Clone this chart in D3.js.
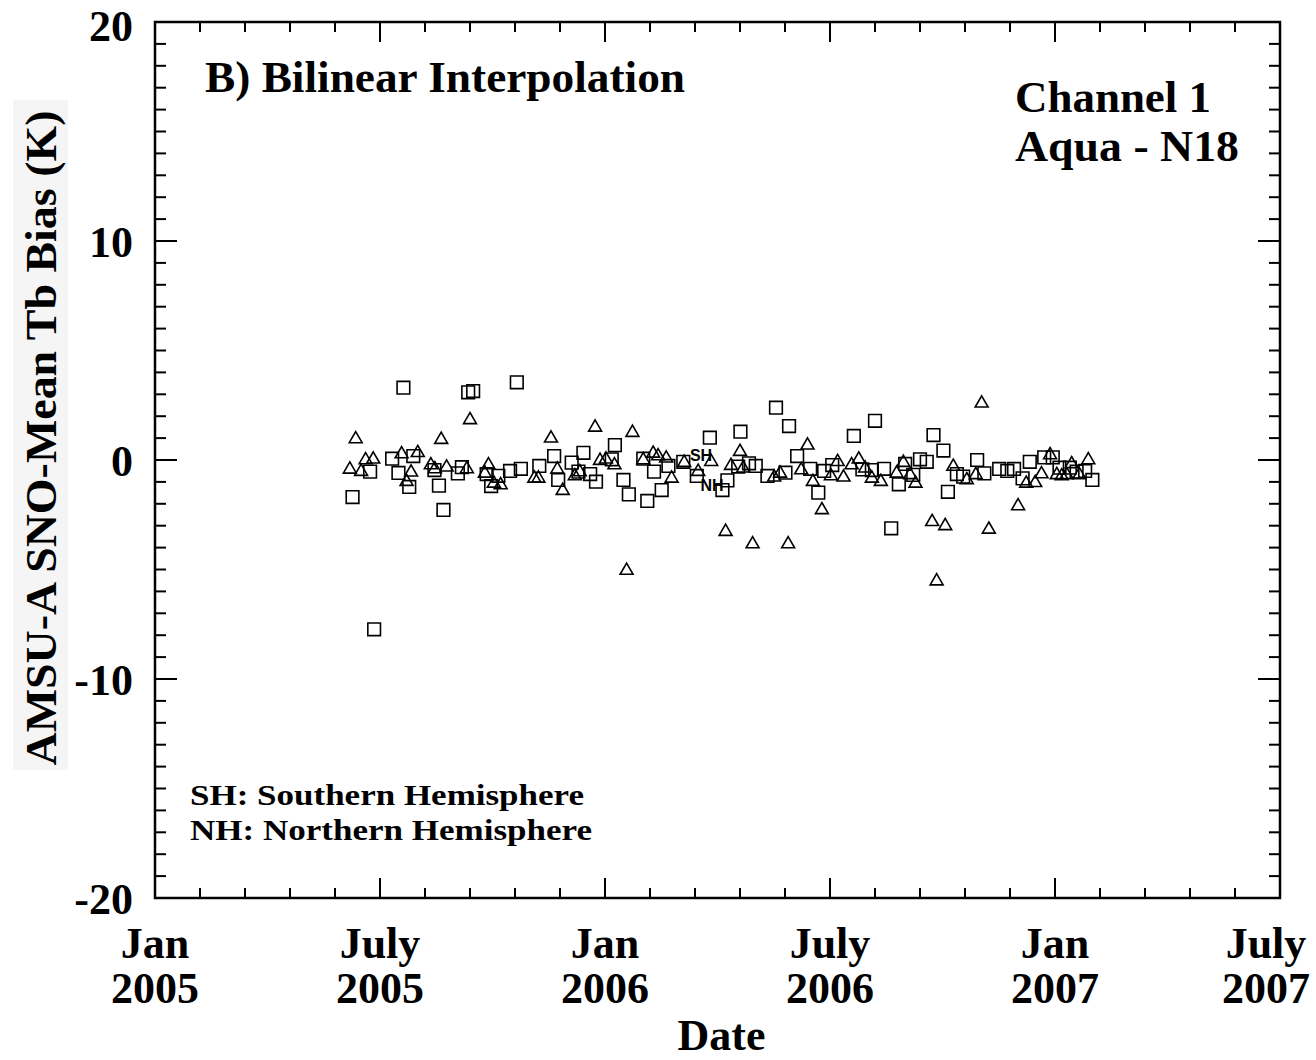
<!DOCTYPE html>
<html>
<head>
<meta charset="utf-8">
<script src="https://cdn.jsdelivr.net/npm/d3@7"></script>
<style>
html,body{margin:0;padding:0;background:#fff;}
svg{display:block;}
text{font-family:"Liberation Serif","Times New Roman",serif;font-weight:bold;fill:#000;}
</style>
</head>
<body>
<svg id="chart" width="1316" height="1060"></svg>
<script>
// ---- Data (decimal year, bias K) ----
const triDates = [2005.433,2005.446,2005.458,2005.468,2005.485,2005.548,2005.559,2005.569,2005.584,2005.613,
  2005.622,2005.636,2005.648,2005.693,2005.700,2005.733,2005.741,2005.753,2005.768,2005.843,
  2005.852,2005.880,2005.894,2005.906,2005.933,2005.944,2005.978,2005.989,2006.002,2006.021,
  2006.048,2006.061,2006.085,2006.107,2006.118,2006.136,2006.148,2006.176,2006.207,2006.236,
  2006.268,2006.280,2006.300,2006.307,2006.328,2006.376,2006.389,2006.407,2006.436,2006.450,
  2006.462,2006.482,2006.502,2006.517,2006.530,2006.548,2006.564,2006.578,2006.593,2006.613,
  2006.648,2006.663,2006.678,2006.690,2006.727,2006.737,2006.756,2006.774,2006.804,2006.824,
  2006.837,2006.853,2006.918,2006.936,2006.956,2006.970,2006.989,2007.004,2007.015,2007.026,
  2007.037,2007.054,2007.074];
const triBias = [-0.43,0.96,-0.53,0.0,0.03,0.27,-0.99,-0.56,0.33,-0.23,
  -0.41,0.93,-0.33,-0.41,1.83,-0.61,-0.23,-1.07,-1.14,-0.84,
  -0.84,0.99,-0.43,-1.40,-0.73,-0.55,1.49,-0.03,0.03,-0.23,
  -5.05,1.25,0.0,0.30,0.18,0.08,-0.84,-0.12,-0.53,-0.08,
  -3.27,-0.26,0.38,-0.38,-3.84,-0.79,-0.61,-3.84,-0.46,0.67,
  -0.99,-2.28,-0.73,-0.08,-0.79,-0.23,0.03,-0.38,-0.84,-0.99,
  -0.61,-0.12,-0.68,-1.07,-2.82,-5.53,-3.01,-0.30,-0.91,-0.68,
  2.59,-3.17,-2.10,-1.07,-1.04,-0.64,0.23,-0.68,-0.73,-0.68,
  -0.18,-0.68,0.0];
const sqDates = [2005.439,2005.478,2005.487,2005.527,2005.541,2005.552,2005.565,2005.574,2005.621,2005.631,
  2005.641,2005.673,2005.682,2005.696,2005.707,2005.737,2005.747,2005.763,2005.789,2005.804,
  2005.813,2005.854,2005.887,2005.896,2005.926,2005.941,2005.952,2005.967,2005.980,2006.015,
  2006.022,2006.041,2006.053,2006.085,2006.094,2006.109,2006.126,2006.141,2006.174,2006.204,
  2006.233,2006.261,2006.272,2006.296,2006.301,2006.320,2006.335,2006.361,2006.380,2006.401,
  2006.409,2006.427,2006.456,2006.474,2006.487,2006.505,2006.553,2006.572,2006.593,2006.600,
  2006.620,2006.636,2006.653,2006.667,2006.685,2006.700,2006.715,2006.730,2006.752,2006.762,
  2006.782,2006.796,2006.827,2006.843,2006.876,2006.894,2006.909,2006.928,2006.944,2006.976,
  2006.995,2007.010,2007.033,2007.048,2007.067,2007.083];
const sqBias = [-1.69,-0.53,-7.73,0.06,-0.59,3.30,-1.23,0.18,-0.46,-1.17,
  -2.28,-0.61,-0.33,3.09,3.15,-0.64,-1.19,-0.72,-0.50,3.55,
  -0.40,-0.27,0.18,-0.91,-0.12,-0.53,0.33,-0.64,-0.99,0.03,
  0.68,-0.91,-1.57,0.06,-1.87,-0.53,-1.37,-0.27,-0.08,-0.73,
  1.02,-1.37,-0.93,-0.30,1.29,-0.15,-0.27,-0.73,2.39,-0.58,
  1.55,0.18,-0.40,-1.49,-0.50,-0.23,1.10,-0.43,-0.46,1.79,
  -0.40,-3.12,-1.11,-0.18,-0.68,0.03,-0.08,1.14,0.43,-1.45,
  -0.64,-0.76,0.0,-0.61,-0.41,-0.50,-0.41,-0.84,-0.08,0.12,
  0.12,-0.35,-0.35,-0.53,-0.50,-0.91];

const xMajorTicks = [2005.0,2005.5,2006.0,2006.5,2007.0,2007.5];
const xMonthLabels = ["Jan","July","Jan","July","Jan","July"];
const xYearLabels = ["2005","2005","2006","2006","2007","2007"];
const yMajorTicks = [20,10,0,-10,-20];

const titleText = "B) Bilinear Interpolation";
const channelText = ["Channel 1","Aqua - N18"];
const legendText = ["SH: Southern Hemisphere","NH: Northern Hemisphere"];
const yTitle = "AMSU-A SNO-Mean Tb Bias (K)";
const xTitle = "Date";

// ---- Layout ----
const L = 155, R = 1280, T = 22, B = 898;
const svg = d3.select("#chart");

const x = d3.scaleLinear().domain([2005.0, 2007.5]).range([L, R]);
const y = d3.scaleLinear().domain([-20, 20]).range([B, T]);

const xMinor = d3.range(0, 26).map(i => 2005 + i * 0.1).filter(v => !xMajorTicks.some(m => Math.abs(m - v) < 1e-6));
const yMinor = d3.range(-20, 21).filter(v => !yMajorTicks.includes(v));

// y-axis title background
svg.append("rect").attr("x", 13).attr("y", 100).attr("width", 55).attr("height", 670).attr("fill", "#f5f5f5");

// ticks (inward on all four sides)
function ticks(g, vals, len) {
  g.selectAll(null).data(vals.x).enter().append("line")
    .attr("x1", d => x(d)).attr("x2", d => x(d)).attr("y1", B).attr("y2", B - len.x)
    .attr("stroke", "#000").attr("stroke-width", 2);
  g.selectAll(null).data(vals.x).enter().append("line")
    .attr("x1", d => x(d)).attr("x2", d => x(d)).attr("y1", T).attr("y2", T + len.x)
    .attr("stroke", "#000").attr("stroke-width", 2);
  g.selectAll(null).data(vals.y).enter().append("line")
    .attr("y1", d => y(d)).attr("y2", d => y(d)).attr("x1", L).attr("x2", L + len.y)
    .attr("stroke", "#000").attr("stroke-width", 2);
  g.selectAll(null).data(vals.y).enter().append("line")
    .attr("y1", d => y(d)).attr("y2", d => y(d)).attr("x1", R).attr("x2", R - len.y)
    .attr("stroke", "#000").attr("stroke-width", 2);
}
const tg = svg.append("g");
ticks(tg, {x: xMinor, y: yMinor}, {x: 10, y: 11});
ticks(tg, {x: xMajorTicks, y: yMajorTicks}, {x: 20, y: 22});

// frame
svg.append("rect").attr("x", L).attr("y", T).attr("width", R - L).attr("height", B - T)
  .attr("fill", "none").attr("stroke", "#000").attr("stroke-width", 2.5);

// y tick labels
svg.selectAll(".ylab").data(yMajorTicks).enter().append("text")
  .attr("x", 133).attr("y", d => Math.max(y(d) + 16, 41)).attr("text-anchor", "end")
  .attr("font-size", 44).text(d => d);

// x tick labels
xMajorTicks.forEach((v, i) => {
  let cx = x(v);
  const halfW = 46;
  if (cx + halfW > 1312) cx = 1312 - halfW;
  svg.append("text").attr("x", cx).attr("y", 958).attr("text-anchor", "middle")
    .attr("font-size", 44).text(xMonthLabels[i]);
  svg.append("text").attr("x", cx).attr("y", 1003).attr("text-anchor", "middle")
    .attr("font-size", 44).text(xYearLabels[i]);
});

// axis titles
svg.append("text").attr("x", (L + R) / 2 + 4).attr("y", 1050).attr("text-anchor", "middle")
  .attr("font-size", 44).text(xTitle);
svg.append("text").attr("transform", "translate(56,438) rotate(-90)").attr("text-anchor", "middle")
  .attr("font-size", 45).attr("textLength", 655).attr("lengthAdjust", "spacingAndGlyphs").text(yTitle);

// annotations
svg.append("text").attr("x", 205).attr("y", 92).attr("font-size", 44)
  .attr("textLength", 480).attr("lengthAdjust", "spacingAndGlyphs").text(titleText);
svg.append("text").attr("x", 1015).attr("y", 112).attr("font-size", 44)
  .attr("textLength", 196).attr("lengthAdjust", "spacingAndGlyphs").text(channelText[0]);
svg.append("text").attr("x", 1015).attr("y", 161).attr("font-size", 44)
  .attr("textLength", 224).attr("lengthAdjust", "spacingAndGlyphs").text(channelText[1]);
svg.append("text").attr("x", 190).attr("y", 805).attr("font-size", 30)
  .attr("textLength", 394).attr("lengthAdjust", "spacingAndGlyphs").text(legendText[0]);
svg.append("text").attr("x", 190).attr("y", 840).attr("font-size", 30)
  .attr("textLength", 402).attr("lengthAdjust", "spacingAndGlyphs").text(legendText[1]);

// data markers
const tri = d3.symbol().type(d3.symbolTriangle).size(72);
const sq = d3.symbol().type(d3.symbolSquare).size(160);
const pg = svg.append("g");
pg.selectAll(".sq").data(sqDates.map((d, i) => [d, sqBias[i]])).enter().append("path")
  .attr("d", sq).attr("transform", d => `translate(${x(d[0])},${y(d[1])})`)
  .attr("fill", "none").attr("stroke", "#000").attr("stroke-width", 1.6);
pg.selectAll(".tri").data(triDates.map((d, i) => [d, triBias[i]])).enter().append("path")
  .attr("d", tri).attr("transform", d => `translate(${x(d[0])},${y(d[1])})`)
  .attr("fill", "none").attr("stroke", "#000").attr("stroke-width", 1.6);

// small SH / NH tags
svg.append("text").attr("x", 701).attr("y", 461).attr("text-anchor", "middle")
  .style("font-family", "'Liberation Sans',Arial,sans-serif").attr("font-size", 16).text("SH");
svg.append("text").attr("x", 712).attr("y", 491).attr("text-anchor", "middle")
  .style("font-family", "'Liberation Sans',Arial,sans-serif").attr("font-size", 16).text("NH");
</script>
</body>
</html>
